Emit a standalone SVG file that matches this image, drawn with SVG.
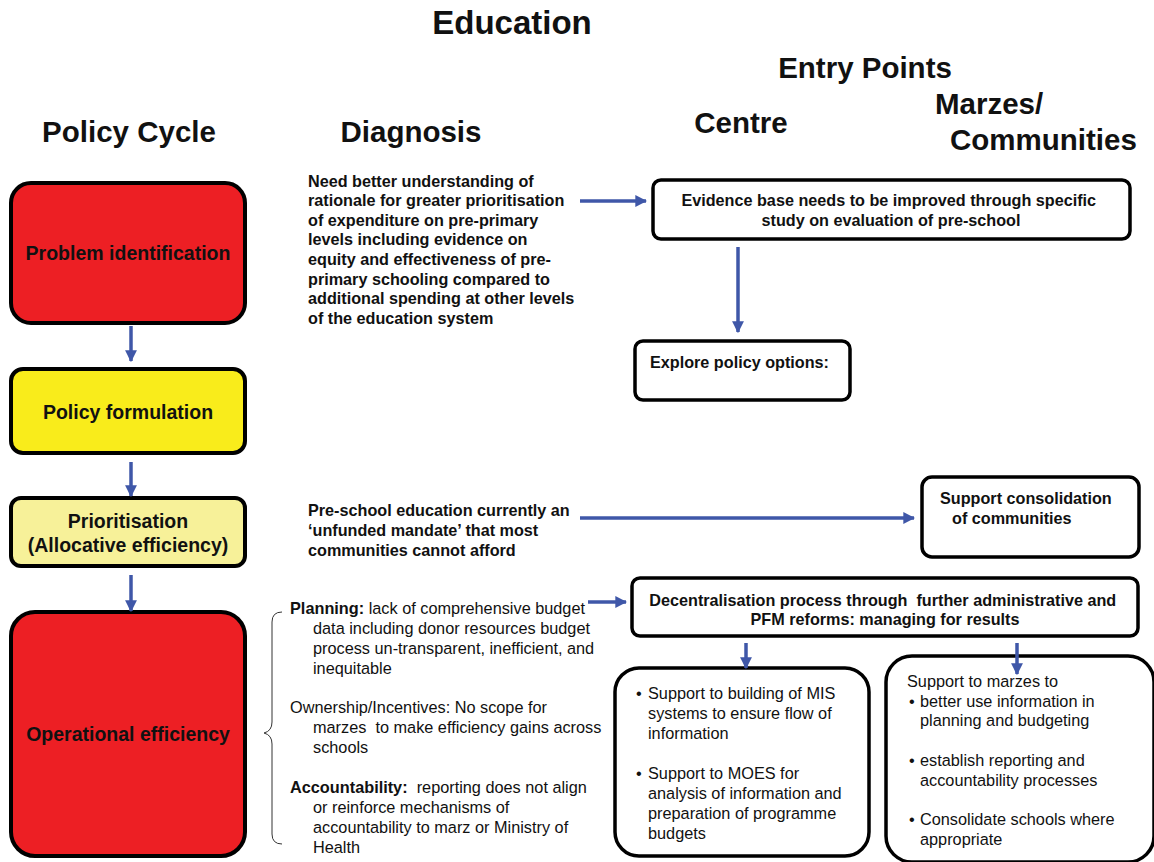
<svg xmlns="http://www.w3.org/2000/svg" width="1154" height="862" viewBox="0 0 1154 862">
  <style>
    text { font-family: "Liberation Sans", Arial, sans-serif; fill: #111; }
    .h1 { font-size: 33px; font-weight: bold; }
    .h2 { font-size: 29.5px; font-weight: bold; }
    .stage { font-size: 19.5px; font-weight: bold; text-anchor: middle; }
    .diag { font-size: 16.2px; font-weight: bold; }
    .body { font-size: 16.3px; }
    .box { fill: #fff; stroke: #000; stroke-width: 3.5; }
    .cycle { stroke: #000; stroke-width: 4; }
    .red { fill: #ED1F24; }
    .yellow { fill: #F9EC1B; }
    .pale { fill: #F7F199; }
    .conn { stroke: #3F57A8; stroke-width: 3.5; fill: none; marker-end: url(#ah); }
  </style>
  <defs>
    <marker id="ah" viewBox="0 0 10 10" refX="9" refY="5" markerWidth="3.4" markerHeight="3.4" orient="auto" markerUnits="strokeWidth">
      <path d="M0,0 L10,5 L0,10 Z" fill="#3F57A8"/>
    </marker>
  </defs>

  <!-- headings -->
  <text class="h1" x="512" y="34" text-anchor="middle">Education</text>
  <text class="h2" x="865" y="78" text-anchor="middle">Entry Points</text>
  <text class="h2" x="129" y="142" text-anchor="middle">Policy Cycle</text>
  <text class="h2" x="411" y="142" text-anchor="middle">Diagnosis</text>
  <text class="h2" x="741" y="133" text-anchor="middle">Centre</text>
  <text class="h2" x="935" y="114">Marzes/</text>
  <text class="h2" x="950" y="150">Communities</text>

  <!-- policy cycle stages -->
  <g id="problem-identification">
    <rect class="cycle red" x="11" y="183" width="234" height="140" rx="20"/>
    <text class="stage" x="128" y="260">Problem identification</text>
  </g>
  <g id="policy-formulation">
    <rect class="cycle yellow" x="11" y="369" width="234" height="84" rx="12"/>
    <text class="stage" x="128" y="419">Policy formulation</text>
  </g>
  <g id="prioritisation">
    <rect class="cycle pale" x="11" y="498" width="234" height="68" rx="10"/>
    <text class="stage" x="128" y="528">Prioritisation</text>
    <text class="stage" x="128" y="552">(Allocative efficiency)</text>
  </g>
  <g id="operational-efficiency">
    <rect class="cycle red" x="11" y="612" width="234" height="244" rx="24"/>
    <text class="stage" x="128" y="741">Operational efficiency</text>
  </g>

  <!-- diagnosis texts -->
  <g id="diagnosis-evidence">
    <text class="diag">
      <tspan x="308" y="187">Need better understanding of</tspan>
      <tspan x="308" y="206">rationale for greater prioritisation</tspan>
      <tspan x="308" y="226">of expenditure on pre-primary</tspan>
      <tspan x="308" y="245">levels including evidence on</tspan>
      <tspan x="308" y="265">equity and effectiveness of pre-</tspan>
      <tspan x="308" y="285">primary schooling compared to</tspan>
      <tspan x="308" y="304">additional spending at other levels</tspan>
      <tspan x="308" y="324">of the education system</tspan>
    </text>
  </g>
  <g id="diagnosis-mandate">
    <text class="diag">
      <tspan x="308" y="516">Pre-school education currently an</tspan>
      <tspan x="308" y="536">‘unfunded mandate’ that most</tspan>
      <tspan x="308" y="556">communities cannot afford</tspan>
    </text>
  </g>
  <g id="diagnosis-operational">
    <path d="M282,612 Q272,612 272,622 L272,722 Q272,731 264,733 Q272,735 272,744 L272,834 Q272,844 282,844" fill="none" stroke="#333" stroke-width="1"/>
    <text class="body">
      <tspan x="290" y="614" font-weight="bold">Planning:</tspan><tspan> lack of comprehensive budget</tspan>
      <tspan x="313" y="634">data including donor resources budget</tspan>
      <tspan x="313" y="654">process un-transparent, inefficient, and</tspan>
      <tspan x="313" y="674">inequitable</tspan>
      <tspan x="290" y="713">Ownership/Incentives: No scope for</tspan>
      <tspan x="313" y="733">marzes&#160; to make efficiency gains across</tspan>
      <tspan x="313" y="753">schools</tspan>
      <tspan x="290" y="793" font-weight="bold">Accountability:</tspan><tspan>&#160; reporting does not align</tspan>
      <tspan x="313" y="813">or reinforce mechanisms of</tspan>
      <tspan x="313" y="833">accountability to marz or Ministry of</tspan>
      <tspan x="313" y="853">Health</tspan>
    </text>
  </g>

  <!-- entry point boxes -->
  <g id="evidence-base">
    <rect class="box" x="653" y="180" width="477" height="59" rx="8"/>
    <text class="diag" text-anchor="middle">
      <tspan x="891" y="206">Evidence base needs to be improved through specific</tspan>
      <tspan x="891" y="226">study on evaluation of pre-school</tspan>
    </text>
  </g>
  <g id="explore-options">
    <rect class="box" x="635" y="341" width="215" height="59" rx="8"/>
    <text class="diag" x="650" y="368">Explore policy options:</text>
  </g>
  <g id="support-consolidation">
    <rect class="box" x="922" y="477" width="217" height="80" rx="10"/>
    <text class="diag">
      <tspan x="940" y="504">Support consolidation</tspan>
      <tspan x="952" y="524">of communities</tspan>
    </text>
  </g>
  <g id="decentralisation">
    <rect class="box" x="632" y="578" width="506" height="58" rx="8"/>
    <text class="diag" text-anchor="middle">
      <tspan x="885" y="606">Decentralisation process through&#160; further administrative and</tspan>
      <tspan x="885" y="625">PFM reforms: managing for results</tspan>
    </text>
  </g>
  <g id="centre-support">
    <rect class="box" x="615" y="668" width="254" height="188" rx="24"/>
    <text class="body">
      <tspan x="636" y="699">•</tspan><tspan x="648" y="699">Support to building of MIS</tspan>
      <tspan x="648" y="719">systems to ensure flow of</tspan>
      <tspan x="648" y="739">information</tspan>
      <tspan x="636" y="779">•</tspan><tspan x="648" y="779">Support to MOES for</tspan>
      <tspan x="648" y="799">analysis of information and</tspan>
      <tspan x="648" y="819">preparation of programme</tspan>
      <tspan x="648" y="839">budgets</tspan>
    </text>
  </g>
  <g id="marz-support">
    <rect class="box" x="886" y="656" width="268" height="206" rx="26"/>
    <text class="body">
      <tspan x="907" y="687">Support to marzes to</tspan>
      <tspan x="909" y="707">•</tspan><tspan x="920" y="707">better use information in</tspan>
      <tspan x="920" y="726">planning and budgeting</tspan>
      <tspan x="909" y="766">•</tspan><tspan x="920" y="766">establish reporting and</tspan>
      <tspan x="920" y="786">accountability processes</tspan>
      <tspan x="909" y="825">•</tspan><tspan x="920" y="825">Consolidate schools where</tspan>
      <tspan x="920" y="845">appropriate</tspan>
    </text>
  </g>

  <!-- connectors -->
  <g id="connectors">
    <line class="conn" x1="131" y1="326" x2="131" y2="361"/>
    <line class="conn" x1="131" y1="462" x2="131" y2="496"/>
    <line class="conn" x1="131" y1="575" x2="131" y2="611"/>
    <line class="conn" x1="580" y1="201" x2="646" y2="201"/>
    <line class="conn" x1="738" y1="247" x2="738" y2="332"/>
    <line class="conn" x1="580" y1="518" x2="914" y2="518"/>
    <line class="conn" x1="588" y1="602" x2="626" y2="602"/>
    <line class="conn" x1="746" y1="643" x2="746" y2="668"/>
    <line class="conn" x1="1017" y1="643" x2="1017" y2="674"/>
  </g>
</svg>
